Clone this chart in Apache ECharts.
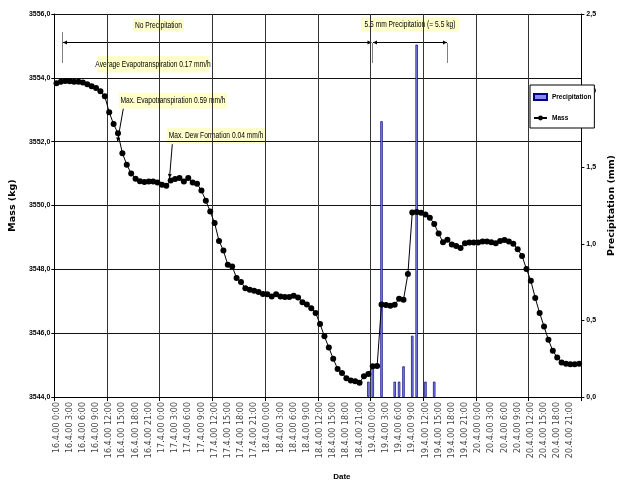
<!DOCTYPE html>
<html><head><meta charset="utf-8">
<script src="https://cdn.jsdelivr.net/npm/echarts/dist/echarts.min.js"></script>
<style>html,body{margin:0;padding:0;background:#fff}#c{width:625px;height:488px}</style>
</head><body><div id="c"></div>
<script>
// ---- data ----
const days = ['16.4.00', '17.4.00', '18.4.00', '19.4.00', '20.4.00'];
const hours = ['0:00','1:00','2:00','3:00','4:00','5:00','6:00','7:00','8:00','9:00','10:00','11:00',
               '12:00','13:00','14:00','15:00','16:00','17:00','18:00','19:00','20:00','21:00','22:00','23:00'];
const mass = [
  3553.83, 3553.88, 3553.90, 3553.89, 3553.88, 3553.88, 3553.85, 3553.80, 3553.74, 3553.68, 3553.58, 3553.42,
  3552.92, 3552.55, 3552.26, 3551.64, 3551.28, 3551.00, 3550.84, 3550.76, 3550.74, 3550.75, 3550.75, 3550.72,
  3550.65, 3550.62, 3550.78, 3550.83, 3550.86, 3550.75, 3550.86, 3550.72, 3550.68, 3550.47, 3550.15, 3549.81,
  3549.45, 3548.89, 3548.59, 3548.14, 3548.09, 3547.73, 3547.60, 3547.41, 3547.36, 3547.33, 3547.29, 3547.23,
  3547.22, 3547.15, 3547.22, 3547.15, 3547.13, 3547.13, 3547.17, 3547.12, 3546.97, 3546.90, 3546.78, 3546.63,
  3546.29, 3545.90, 3545.55, 3545.20, 3544.88, 3544.75, 3544.59, 3544.52, 3544.49, 3544.45, 3544.65, 3544.72,
  3544.96, 3544.97, 3546.90, 3546.88, 3546.86, 3546.89, 3547.08, 3547.05, 3547.85, 3549.78, 3549.80, 3549.77,
  3549.72, 3549.62, 3549.42, 3549.12, 3548.85, 3548.93, 3548.78, 3548.73, 3548.67, 3548.82, 3548.84, 3548.84,
  3548.84, 3548.87, 3548.87, 3548.85, 3548.82, 3548.89, 3548.92, 3548.87, 3548.80, 3548.63, 3548.42, 3548.01,
  3547.64, 3547.10, 3546.63, 3546.21, 3545.79, 3545.45, 3545.24, 3545.08, 3545.04, 3545.03, 3545.03, 3545.04
];
const precipTimes = ['18.4.00 23:00', '19.4.00 0:00', '19.4.00 2:00', '19.4.00 5:00', '19.4.00 6:00',
                     '19.4.00 7:00', '19.4.00 9:00', '19.4.00 10:00', '19.4.00 12:00', '19.4.00 14:00'];
const precipValues = [0.1, 0.2, 1.8, 0.1, 0.1, 0.2, 0.4, 2.3, 0.1, 0.1];
const massTicks = { min: 3544, max: 3556, step: 2 };
const precipTicks = { min: 0, max: 2.5, step: 0.5 };

// ---- build ----
const categories = [];
days.forEach(d => hours.forEach(h => categories.push(d + ' ' + h)));
const commaFmt = v => v.toFixed(1).replace('.', ',');

const yellow = '#ffffcc';
const annFont = '9px "Liberation Sans", Arial, sans-serif';
function box(x, y, w, h) { return { type: 'rect', silent: true, shape: { x, y, width: w, height: h }, style: { fill: yellow } }; }
function label(cx, cy, text) {
  return { type: 'text', silent: true, x: cx, y: cy, scaleX: 0.74,
    style: { text, fill: '#000', font: annFont, align: 'center', verticalAlign: 'middle', textAlign: 'center', textVerticalAlign: 'middle' } };
}
function seg(x1, y1, x2, y2, c) { return { type: 'line', silent: true, shape: { x1, y1, x2, y2 }, style: { stroke: c || '#000', lineWidth: 1 } }; }
function head(tx, ty, fx, fy) {
  const dx = tx - fx, dy = ty - fy, L = Math.hypot(dx, dy), ux = dx / L, uy = dy / L;
  const len = 4, hw = 2;
  const bx = tx - ux * len, by = ty - uy * len;
  return { type: 'polygon', silent: true, shape: { points: [[tx, ty], [bx - uy * hw, by + ux * hw], [bx + uy * hw, by - ux * hw]] }, style: { fill: '#000' } };
}

const graphics = [
  seg(62.5, 32, 62.5, 63, '#808080'),
  seg(372.5, 43, 372.5, 63, '#808080'),
  seg(447.5, 43, 447.5, 63, '#808080'),
  seg(63, 42.5, 371.5, 42.5), head(63, 42.5, 80, 42.5), head(371.5, 42.5, 350, 42.5),
  seg(373, 42.5, 447, 42.5), head(373, 42.5, 390, 42.5), head(447, 42.5, 430, 42.5),
  box(133, 19, 51, 12.5), label(158.5, 25.3, 'No Precipitation'),
  box(97, 56, 112, 16.5), label(153, 64.3, 'Average Evapotranspiration 0.17 mm/h'),
  box(119, 92.7, 108, 16), label(173, 100.7, 'Max. Evapotranspiration 0.59 mm/h'),
  box(166.7, 127.7, 98.3, 16.3), label(216, 135.8, 'Max. Dew Formation 0.04 mm/h'),
  box(361, 17.3, 98.3, 14.4), label(410, 24.5, '5.5 mm Precipitation (= 5.5 kg)'),
  seg(123.3, 108.7, 117.5, 141.5), head(117.5, 141.5, 123.3, 108.7),
  seg(172.3, 144.2, 169.5, 178), head(169.5, 178, 172.3, 144.2)
];

const axisFont = 'Liberation Sans';
const chart = echarts.init(document.getElementById('c'), null, { renderer: 'canvas' });
chart.setOption({
  animation: false,
  backgroundColor: '#fff',
  grid: { left: 46, right: 25, top: 14, bottom: 91, containLabel: false },
  legend: {
    data: [{ name: 'Precipitation', icon: 'rect' }, { name: 'Mass' }],
    orient: 'vertical', left: 530, top: 85,
    backgroundColor: '#fff', borderColor: '#000', borderWidth: 1, borderRadius: 0,
    padding: [7, 3, 5, 3], itemGap: 11, itemWidth: 13, itemHeight: 6,
    textStyle: { fontSize: 6.5, fontWeight: 'bold', fontFamily: axisFont, color: '#000', lineHeight: 10 }
  },
  xAxis: {
    type: 'category', data: categories, boundaryGap: true,
    name: 'Date', nameLocation: 'middle', nameGap: 76,
    nameTextStyle: { fontSize: 8, fontWeight: 'bold', fontFamily: axisFont, color: '#000', padding: [0, 0, 0, 48] },
    axisLine: { show: true, lineStyle: { color: '#000', width: 1 } },
    axisTick: { show: true, interval: 11, length: 4, lineStyle: { color: '#000' } },
    axisLabel: { interval: 2, rotate: 90, fontSize: 8, fontFamily: 'DejaVu Sans', color: '#444', margin: 5 },
    splitLine: { show: true, interval: 11, lineStyle: { color: '#333', width: 1 } }
  },
  yAxis: [
    {
      type: 'value', min: massTicks.min, max: massTicks.max, interval: massTicks.step,
      name: 'Mass (kg)', nameLocation: 'middle', nameRotate: 90, nameGap: 26,
      nameTextStyle: { fontSize: 9.5, fontWeight: 'bold', fontFamily: 'DejaVu Sans', color: '#000' },
      axisLine: { show: true, lineStyle: { color: '#000', width: 1 } },
      axisTick: { show: true, length: 3, lineStyle: { color: '#000' } },
      axisLabel: { formatter: commaFmt, fontSize: 7, fontWeight: 'bold', fontFamily: axisFont, color: '#000', margin: 4 },
      splitLine: { show: true, lineStyle: { color: '#111', width: 1 } }
    },
    {
      type: 'value', position: 'right', min: precipTicks.min, max: precipTicks.max, interval: precipTicks.step,
      name: 'Precipitation (mm)', nameLocation: 'middle', nameRotate: 90, nameGap: 14,
      nameTextStyle: { fontSize: 9.5, fontWeight: 'bold', fontFamily: 'DejaVu Sans', color: '#000' },
      axisLine: { show: true, lineStyle: { color: '#000', width: 1 } },
      axisTick: { show: true, length: 3, lineStyle: { color: '#000' } },
      axisLabel: { formatter: commaFmt, fontSize: 7, fontWeight: 'bold', fontFamily: axisFont, color: '#000', margin: 5 },
      splitLine: { show: false }
    }
  ],
  series: [
    {
      name: 'Precipitation', type: 'bar', yAxisIndex: 1, barWidth: '55%',
      data: precipTimes.map((t, k) => [t, precipValues[k]]),
      itemStyle: { color: '#8888ee', borderColor: '#000080', borderWidth: 0.7 }
    },
    {
      name: 'Mass', type: 'line', yAxisIndex: 0, data: mass,
      symbol: 'circle', symbolSize: 6, showSymbol: true, showAllSymbol: true,
      lineStyle: { color: '#000', width: 1 },
      itemStyle: { color: '#000' }
    }
  ],
  graphic: graphics
});
</script></body></html>
